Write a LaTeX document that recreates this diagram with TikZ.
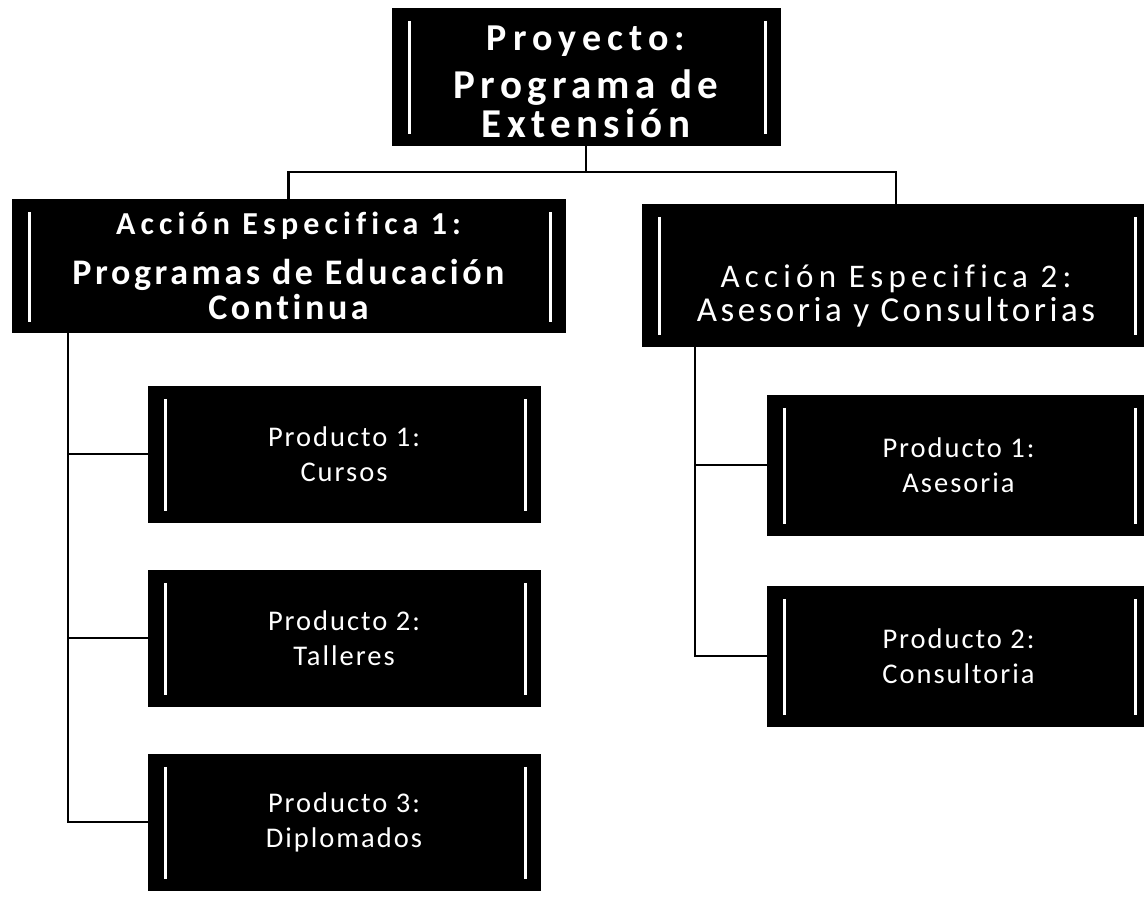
\documentclass[tikz,border=0pt]{standalone}
\usepackage{fontspec}
\newfontfamily\headfont{Carlito}[LetterSpace=16,Ligatures=NoCommon]
\newfontfamily\topfont{Carlito}[LetterSpace=13,Ligatures=NoCommon]
\newfontfamily\boxfont{Carlito}[LetterSpace=10,Ligatures=NoCommon]
\newfontfamily\prodfont{Carlito}[LetterSpace=7,Ligatures=NoCommon]
\begin{document}
\begin{tikzpicture}[x=1pt,y=-1pt,
    box/.style={draw=black,fill=black,text=white,inner sep=0pt,align=center},
    toptext/.style={text=white,inner sep=0pt,align=center,font=\topfont\bfseries\fontsize{41}{39}\selectfont},
    actbox/.style={box,font=\boxfont\bfseries\fontsize{36}{35}\selectfont},
    boxtext/.style={text=white,inner sep=0pt,align=center,font=\boxfont\fontsize{35}{34}\selectfont},
    prodbox/.style={box,font=\prodfont\fontsize{28.5}{35}\selectfont,
      minimum width=392pt,minimum height=136pt},
    whitebar/.style={white,line width=3pt},
    link/.style={black,line width=2.4pt}]
  \clip (0,0) rectangle (1144,912);
  \fill [white] (0,0) rectangle (1144,912);

  \node [box,minimum width=388pt,minimum height=137pt] (proj) at (586,76.5) {};
  \node [toptext] (projt) at ([yshift=-5pt]proj.center)
    {{\headfont\bfseries\fontsize{38}{39}\selectfont Proyecto:}\\[9pt]Programa de\\Extensión};

  \node [actbox,minimum width=553pt,minimum height=133pt] (acc1) at (288.5,266)
    {{\headfont\bfseries\fontsize{32}{35}\selectfont Acción Especifica 1:}\\[15pt]Programas de Educación\\Continua};
  \node [box,minimum width=508pt,minimum height=142pt] (acc2) at (896,275) {};
  \node [boxtext] (acc2t) at ([yshift=-21pt]acc2.center)
    {{\headfont\fontsize{33}{34}\selectfont Acción Especifica 2:}\\Asesoria y Consultorias};

  \node [prodbox] (p11) at (344,454) {Producto 1:\\Cursos};
  \node [prodbox] (p12) at (344,638) {Producto 2:\\Talleres};
  \node [prodbox] (p13) at (344,822) {Producto 3:\\Diplomados};
  \node [prodbox,minimum width=383pt,minimum height=140pt] (p21) at (958.5,465) {Producto 1:\\Asesoria};
  \node [prodbox,minimum width=383pt,minimum height=140pt] (p22) at (958.5,656) {Producto 2:\\Consultoria};

  \foreach \n in {proj,acc1,acc2,p11,p12,p13,p21,p22}{
    \draw [whitebar] ([shift={(18,13)}]\n.north west) -- ([shift={(18,-11)}]\n.south west);
    \draw [whitebar] ([shift={(-15,13)}]\n.north east) -- ([shift={(-15,-11)}]\n.south east);
  }

  \draw [link] (proj.south) -- ++(0,27) coordinate (split);
  \draw [link] (split) -| (acc1.north);
  \draw [link] (split) -| (acc2.north);

  \coordinate (trunk1) at ([xshift=56pt]acc1.south west);
  \coordinate (trunk2) at ([xshift=53pt]acc2.south west);
  \draw [link] (trunk1) |- (p13.west);
  \draw [link] (trunk2) |- (p22.west);
  \foreach \p in {p11,p12}
    \draw [link] (trunk1 |- \p.west) -- (\p.west);
  \draw [link] (trunk2 |- p21.west) -- (p21.west);
\end{tikzpicture}
\end{document}
